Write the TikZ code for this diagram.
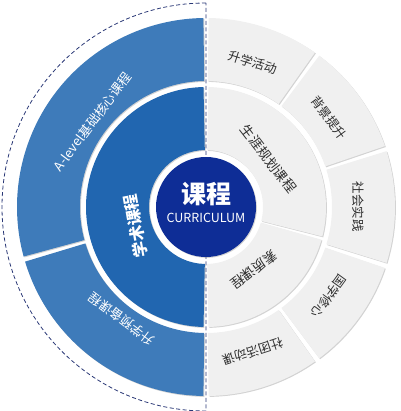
\documentclass[tikz,border=0pt]{standalone}
\usepackage{fontspec}
\setmainfont{Noto Sans CJK SC}
\usetikzlibrary{shadows}
\definecolor{outerblue}{RGB}{62,123,186}
\definecolor{innerblue}{RGB}{33,102,176}
\definecolor{coreblue}{RGB}{14,45,150}
\definecolor{seggray}{RGB}{240,240,240}
\definecolor{dashnavy}{RGB}{42,56,118}
\definecolor{labelgray}{RGB}{45,45,45}
\tikzstyle{segshadow}=[drop shadow={shadow xshift=0.9pt,shadow yshift=-0.9pt,opacity=0.35}]
\tikzstyle{outerseg}=[fill=outerblue,segshadow]
\tikzstyle{innerseg}=[fill=innerblue,segshadow]
\tikzstyle{grayseg}=[fill=seggray,segshadow]
\tikzstyle{whitelabel}=[text=white,inner sep=0pt,font=\fontsize{13}{13}\selectfont]
\tikzstyle{graylabel}=[text=labelgray,inner sep=0pt,font=\fontsize{12.5}{12.5}\selectfont]
\newcommand{\annseg}[5]{%
    \path[#1] (#4:#3) arc[start angle=#4, end angle=#5, radius=#3]
        -- (#5:#2) arc[start angle=#5, end angle=#4, radius=#2] -- cycle;}

\begin{document}
\begin{tikzpicture}[x=1pt, y=1pt]
    \useasboundingbox (-206,-204) rectangle (194,207);
    \draw[dashnavy, line width=0.8pt, dash pattern=on 4pt off 2.5pt]
        (90:204) arc[start angle=90, end angle=270, radius=204] -- cycle;
    % left half
    \annseg{outerseg}{126}{189}{90.8}{195.2}
    \annseg{outerseg}{126}{189}{196.8}{269.2}
    \annseg{innerseg}{57}{120}{91.2}{268.8}
    % right half
    \foreach \a in {90,54,18,-18,-54} {
        \annseg{grayseg}{126}{189}{\a-0.8}{\a-35.2}
    };
    \annseg{grayseg}{57}{120}{88.8}{-14.2}
    \annseg{grayseg}{57}{120}{-15.8}{-88.8}
    % labels
    \node[whitelabel, rotate=53] (alevel) at (143:142) {A-level基础核心课程};
    \node[whitelabel, rotate=143] (prep) at (233:140) {升学预备课程};
    \node[whitelabel, rotate=100, font=\fontsize{16}{16}\selectfont\bfseries] (academic) at (195:73) {学术课程};
    \foreach \ang/\txt [count=\i] in {72/升学活动, 36/背景提升, 0/社会实践, -36/国学修心, -72/社团活动课} {
        \node[graylabel, rotate=\ang-90] (act\i) at (\ang:152) {\txt};
    };
    \node[graylabel, rotate=-52.5, font=\fontsize{13.5}{13.5}\selectfont] (career) at (37.5:79) {生涯规划课程};
    \node[graylabel, rotate=-142.5, font=\fontsize{13.5}{13.5}\selectfont] (quality) at (-52.5:79) {素质课程};
    % core
    \node[circle, fill=coreblue, minimum size=100pt, segshadow] (core) at (0,0) {};
    \node[whitelabel, font=\fontsize{25}{25}\selectfont\bfseries] (coretitle) at (0,13) {课程};
    \node[whitelabel, font=\fontsize{12.5}{12.5}\selectfont] (coresub) at (0,-11) {CURRICULUM};
\end{tikzpicture}
\end{document}
